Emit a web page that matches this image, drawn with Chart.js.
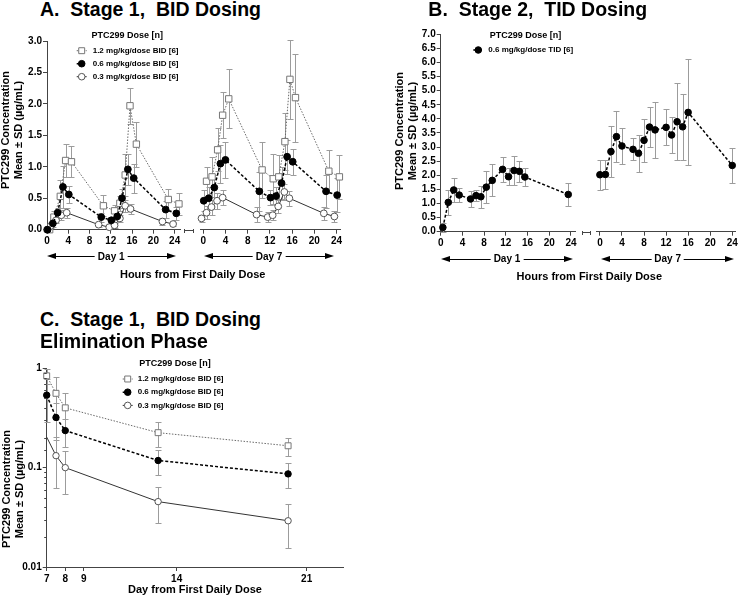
<!DOCTYPE html>
<html><head><meta charset="utf-8">
<script src="https://cdn.jsdelivr.net/npm/chart.js@4.4.1/dist/chart.umd.min.js"></script>
<style>
html,body{margin:0;padding:0;background:#fff;}
body{width:740px;height:595px;position:relative;overflow:hidden;font-family:"Liberation Sans",Arial,sans-serif;}
canvas{position:absolute;}
.t{position:absolute;font-weight:bold;color:#000;white-space:pre;line-height:1;}
.yt{position:absolute;font-weight:bold;color:#000;white-space:nowrap;font-size:11px;line-height:13px;text-align:center;transform:translate(-50%,-50%) rotate(-90deg);}
.arrow{position:absolute;height:10px;}
.arrow .shaft{position:absolute;left:5px;right:5px;top:4.25px;height:1.5px;background:#000;}
.arrow .hl{position:absolute;left:0;top:1.5px;width:0;height:0;border-right:9px solid #000;border-top:3.5px solid transparent;border-bottom:3.5px solid transparent;}
.arrow .hr{position:absolute;right:0;top:1.5px;width:0;height:0;border-left:9px solid #000;border-top:3.5px solid transparent;border-bottom:3.5px solid transparent;}
.arrow span{position:absolute;left:50%;top:50%;transform:translate(-50%,-50%);background:#fff;padding:0 3px;font-size:10px;font-weight:bold;line-height:1;white-space:nowrap;}
.brk{position:absolute;height:4px;border-left:1px solid #444;border-right:1px solid #444;}
.brk::after{content:'';position:absolute;left:0;right:0;top:1px;height:1px;background:#444;}
</style>
</head><body>
<script>
// ---------------- DATA ----------------
const seriesLabels = ['1.2 mg/kg/dose BID [6]', '0.6 mg/kg/dose BID [6]', '0.3 mg/kg/dose BID [6]'];
const tidLabel = '0.6 mg/kg/dose TID [6]';
const legendTitle = 'PTC299 Dose [n]';

// Panel A, Day 1 (hours)
const a1_hi_t  = [0.5, 1.3, 2.5, 3.5, 4.6, 10.6, 12.7, 13.7, 14.7, 15.6, 16.8, 22.8, 24.8];
const a1_hi_v  = [0.0, 0.20, 0.53, 1.10, 1.08, 0.38, 0.30, 0.42, 0.87, 1.97, 1.36, 0.48, 0.41];
const a1_hi_sd = [0, 0.10, 0.26, 0.27, 0.25, 0.17, 0.10, 0.12, 0.34, 0.29, 0.36, 0.17, 0.17];
const a1_md_t  = [0.1, 1.1, 2.0, 3.0, 4.1, 10.2, 12.1, 13.2, 14.1, 15.2, 16.3, 22.3, 24.3];
const a1_md_v  = [0.0, 0.10, 0.27, 0.68, 0.56, 0.20, 0.15, 0.21, 0.50, 0.96, 0.82, 0.32, 0.26];
const a1_md_sd = [0, 0.05, 0.08, 0.33, 0.14, 0.07, 0.05, 0.06, 0.15, 0.25, 0.23, 0.14, 0.10];
const a1_lo_t  = [0.0, 0.7, 1.7, 2.7, 3.7, 9.7, 11.7, 12.7, 13.7, 14.7, 15.7, 21.7, 23.7];
const a1_lo_v  = [0.0, 0.06, 0.15, 0.23, 0.27, 0.08, 0.04, 0.07, 0.18, 0.38, 0.33, 0.13, 0.09];
const a1_lo_sd = [0, 0.03, 0.05, 0.08, 0.08, 0.04, 0.03, 0.04, 0.06, 0.10, 0.08, 0.05, 0.03];

// Panel A, Day 7 (hours)
const a7_hi_t  = [0.6, 1.6, 2.6, 3.5, 4.6, 10.6, 12.6, 13.6, 14.7, 15.6, 16.6, 22.6, 24.5];
const a7_hi_v  = [0.77, 0.84, 1.27, 1.82, 2.08, 0.95, 0.81, 0.84, 1.40, 2.39, 2.10, 0.93, 0.84];
const a7_hi_sd = [0.23, 0.32, 0.34, 0.37, 0.47, 0.45, 0.40, 0.35, 0.45, 0.63, 0.70, 0.34, 0.35];
const a7_md_t  = [0.1, 1.0, 2.0, 3.1, 4.0, 10.1, 12.1, 13.1, 14.1, 15.1, 16.1, 22.1, 24.1];
const a7_md_v  = [0.46, 0.50, 0.67, 1.05, 1.11, 0.61, 0.51, 0.535, 0.74, 1.16, 1.08, 0.61, 0.55];
const a7_md_sd = [0.17, 0.18, 0.20, 0.30, 0.29, 0.31, 0.12, 0.15, 0.25, 0.27, 0.21, 0.26, 0.27];
const a7_lo_t  = [-0.3, 0.6, 1.5, 2.5, 3.5, 9.6, 11.6, 12.5, 13.5, 14.6, 15.5, 21.7, 23.6];
const a7_lo_v  = [0.18, 0.27, 0.36, 0.46, 0.51, 0.24, 0.20, 0.23, 0.37, 0.60, 0.50, 0.26, 0.21];
const a7_lo_sd = [0.05, 0.10, 0.12, 0.13, 0.12, 0.12, 0.08, 0.08, 0.10, 0.13, 0.12, 0.10, 0.08];

// Panel B, TID (hours)
const b1_t  = [0.4, 1.4, 2.4, 3.4, 5.5, 6.5, 7.4, 8.4, 9.5, 11.4, 12.5, 13.5, 14.5, 15.5, 23.5];
const b1_v  = [0.15, 1.04, 1.48, 1.30, 1.16, 1.28, 1.24, 1.58, 1.82, 2.21, 1.95, 2.17, 2.14, 1.94, 1.32];
const b1_sd = [0.15, 0.44, 0.43, 0.26, 0.29, 0.20, 0.39, 0.57, 0.57, 0.45, 0.30, 0.53, 0.36, 0.33, 0.41];
const b7_t  = [0, 1, 2, 3, 4, 6, 7, 8, 9, 10, 12, 13, 14, 15, 16, 24];
const b7_v  = [2.02, 2.03, 2.84, 3.37, 3.04, 2.92, 2.78, 3.24, 3.71, 3.61, 3.70, 3.43, 3.90, 3.72, 4.23, 2.35];
const b7_sd = [0.54, 0.53, 0.91, 0.91, 0.65, 0.39, 0.65, 0.76, 0.70, 1.00, 0.64, 0.65, 1.36, 1.18, 1.88, 0.63];

// Panel C, elimination (days)
const c_days  = [7, 7.5, 8, 13, 20];
const c_hi_v  = [0.84, 0.56, 0.40, 0.225, 0.166];
const c_hi_sd = [0.15, 0.25, 0.16, 0.065, 0.035];
const c_md_v  = [0.537, 0.32, 0.236, 0.118, 0.0865];
const c_md_sd = [0.25, 0.13, 0.075, 0.033, 0.024];
const c_lo_v  = [0.203, 0.132, 0.10, 0.0455, 0.0292];
const c_lo_sd = [0, 0.07, 0.046, 0.018, 0.0135];

// tick values
const hourTicks = [0, 4, 8, 12, 16, 20, 24];
const aYTicks = [0, 0.5, 1, 1.5, 2, 2.5, 3];
const bYTicks = [0, 0.5, 1, 1.5, 2, 2.5, 3, 3.5, 4, 4.5, 5, 5.5, 6, 6.5, 7];
const cXTicks = [7, 8, 9, 14, 21];

// ---------------- STYLE / HELPERS ----------------
const FONT = '"Liberation Sans", Arial, sans-serif';
const AX = '#444';
const EB = '#9c9c9c';

const S_HI = {pointStyle:'rect', pointRadius:4.5, pointBackgroundColor:'#fff', pointBorderColor:'#777', pointBorderWidth:1,
  borderColor:'#6a6a6a', borderWidth:1, borderDash:[1.5,1.5], order:2};
const S_MD = {pointStyle:'circle', pointRadius:3.4, pointBackgroundColor:'#000', pointBorderColor:'#000', pointBorderWidth:1,
  borderColor:'#000', borderWidth:1.5, borderDash:[3,2], order:0};
const S_LO = {pointStyle:'circle', pointRadius:3.4, pointBackgroundColor:'#fff', pointBorderColor:'#555', pointBorderWidth:1,
  borderColor:'#333', borderWidth:1, borderDash:[], order:1};

function xy(t, v){ return t.map((x, i) => ({x: x, y: v[i]})); }
function ds(label, t, v, sd, style, extra){
  return Object.assign({label: label, data: xy(t, v), sd: sd, showLine: true, fill: false, clip: false, tension: 0}, style, extra || {});
}
function isPow10(v){ const l = Math.log10(v); return Math.abs(l - Math.round(l)) < 1e-6; }

function drawMarker(ctx, style, x, y, r, fill, stroke){
  ctx.save(); ctx.fillStyle = fill; ctx.strokeStyle = stroke; ctx.lineWidth = 1; ctx.setLineDash([]);
  ctx.beginPath();
  if (style === 'rect') { const s = r * Math.SQRT1_2; ctx.rect(x - s, y - s, 2 * s, 2 * s); }
  else ctx.arc(x, y, r, 0, Math.PI * 2);
  ctx.fill(); ctx.stroke(); ctx.restore();
}

const errorBarPlugin = {
  id: 'errorBars',
  beforeDatasetsDraw(chart){
    const ctx = chart.ctx, xs = chart.scales.x, ys = chart.scales.y;
    ctx.save(); ctx.strokeStyle = EB; ctx.lineWidth = 1; ctx.setLineDash([]);
    chart.data.datasets.forEach(d => {
      if (!d.sd) return;
      d.data.forEach((p, i) => {
        const sd = d.sd[i]; if (!sd) return;
        const x = Math.round(xs.getPixelForValue(p.x)) + 0.5;
        const yt = Math.round(ys.getPixelForValue(p.y + sd)) + 0.5;
        let lo = p.y - sd; if (lo < ys.min) lo = ys.min;
        const yb = Math.round(ys.getPixelForValue(lo)) + 0.5;
        ctx.beginPath();
        ctx.moveTo(x, yt); ctx.lineTo(x, yb);
        ctx.moveTo(x - 3, yt); ctx.lineTo(x + 3, yt);
        ctx.moveTo(x - 3, yb); ctx.lineTo(x + 3, yb);
        ctx.stroke();
      });
    });
    ctx.restore();
  }
};

function legendPlugin(id, L){
  return { id: id, afterDraw(chart){
    const ctx = chart.ctx;
    ctx.save();
    ctx.fillStyle = '#000'; ctx.textBaseline = 'middle';
    ctx.font = 'bold 9px ' + FONT; ctx.textAlign = 'center';
    ctx.fillText(L.title, L.titleX - L.ox, L.titleY - L.oy);
    ctx.font = 'bold 8px ' + FONT; ctx.textAlign = 'left';
    chart.data.datasets.forEach((d, k) => {
      const y = L.y0 + k * L.dy - L.oy, mx = L.mx - L.ox;
      ctx.save(); ctx.strokeStyle = d.borderColor; ctx.lineWidth = d.borderWidth; ctx.setLineDash(d.borderDash || []);
      ctx.beginPath(); ctx.moveTo(mx - 5, y); ctx.lineTo(mx + 5, y); ctx.stroke(); ctx.restore();
      drawMarker(ctx, d.pointStyle, mx, y, d.pointStyle === 'rect' ? 4.2 : 3.3, d.pointBackgroundColor, d.pointBorderColor);
      ctx.fillStyle = '#000';
      ctx.fillText(d.label, L.tx - L.ox, y);
    });
    ctx.restore();
  }};
}

const minorTickPlugin = {
  id: 'minorTicks',
  afterDraw(chart){
    const ys = chart.scales.y, ctx = chart.ctx;
    ctx.save(); ctx.strokeStyle = AX; ctx.lineWidth = 1;
    ys.ticks.forEach(t => {
      if (!isPow10(t.value)) {
        const y = Math.round(ys.getPixelForValue(t.value)) + 0.5;
        ctx.beginPath(); ctx.moveTo(ys.right - 2.5, y); ctx.lineTo(ys.right, y); ctx.stroke();
      }
    });
    ctx.restore();
  }
};

function makeChart(cfg){
  const cv = document.createElement('canvas');
  cv.width = cfg.w; cv.height = cfg.h;
  cv.style.left = cfg.left + 'px'; cv.style.top = cfg.top + 'px';
  cv.style.width = cfg.w + 'px'; cv.style.height = cfg.h + 'px';
  document.body.appendChild(cv);
  const HX = 22;
  const wy = cfg.showY ? cfg.area.l - cfg.left : 0;
  const pad = {
    left: cfg.showY ? 0 : cfg.area.l - cfg.left,
    top: cfg.area.t - cfg.top,
    right: cfg.left + cfg.w - cfg.area.r,
    bottom: cfg.top + cfg.h - cfg.area.b - HX
  };
  const tickFont = {family: FONT, size: 10, weight: 'bold'};
  const yOpts = {
    type: cfg.yType || 'linear', position: 'left', min: cfg.yMin, max: cfg.yMax, display: cfg.showY,
    border: {display: true, color: AX, width: 1},
    grid: {drawOnChartArea: false, drawTicks: true, tickLength: 4, tickColor: cfg.yTickColor || AX},
    ticks: {font: tickFont, color: '#000', padding: 1, autoSkip: false, callback: cfg.yFmt},
    afterFit: s => { if (cfg.showY) s.width = wy; s.paddingTop = 0; s.paddingBottom = 0; }
  };
  if (cfg.yTicks) yOpts.afterBuildTicks = s => { s.ticks = cfg.yTicks.map(v => ({value: v})); };
  return new Chart(cv, {
    type: 'scatter',
    data: {datasets: cfg.datasets},
    options: {
      responsive: false, animation: false, devicePixelRatio: 1, events: [],
      layout: {padding: pad},
      plugins: {legend: {display: false}, tooltip: {enabled: false}},
      scales: {
        x: {
          type: 'linear', position: 'bottom', min: cfg.xMin, max: cfg.xMax,
          border: {display: true, color: AX, width: 1},
          grid: {drawOnChartArea: false, drawTicks: true, tickLength: 4, tickColor: AX},
          ticks: {font: tickFont, color: '#000', padding: 2, maxRotation: 0, autoSkip: false, callback: v => String(v)},
          afterBuildTicks: s => { s.ticks = cfg.xTicks.map(v => ({value: v})); },
          afterFit: s => { s.height = HX; s.paddingLeft = 0; s.paddingRight = 0; }
        },
        y: yOpts
      }
    },
    plugins: [errorBarPlugin].concat(cfg.plugins || [])
  });
}

function addText(str, x, baseline, size, center){
  const d = document.createElement('div');
  d.className = 't'; d.textContent = str;
  d.style.fontSize = size + 'px';
  d.style.top = (baseline - 0.8465 * size) + 'px';
  d.style.left = x + 'px';
  if (center) d.style.transform = 'translateX(-50%)';
  document.body.appendChild(d);
}
function addYTitle(lines, cx, cy){
  const d = document.createElement('div');
  d.className = 'yt';
  d.innerHTML = lines.join('<br>');
  d.style.left = cx + 'px'; d.style.top = cy + 'px';
  document.body.appendChild(d);
}
function addArrow(x1, x2, y, label){
  const d = document.createElement('div');
  d.className = 'arrow';
  d.style.left = x1 + 'px'; d.style.top = (y - 5) + 'px'; d.style.width = (x2 - x1) + 'px';
  d.innerHTML = '<div class="shaft"></div><div class="hl"></div><div class="hr"></div>';
  const s = document.createElement('span'); s.textContent = label; d.appendChild(s);
  document.body.appendChild(d);
}
function addBreak(x, y, w){
  const d = document.createElement('div');
  d.className = 'brk';
  d.style.left = x + 'px'; d.style.top = y + 'px'; d.style.width = w + 'px';
  document.body.appendChild(d);
}

const fmt1 = v => Number(v).toFixed(1);

// ---------------- PANEL A ----------------
makeChart({
  left: 0, top: 20, w: 190, h: 240, showY: true,
  area: {l: 47, t: 41, r: 180, b: 229.7},
  xMin: 0, xMax: 25, xTicks: hourTicks,
  yMin: 0, yMax: 3, yTicks: aYTicks, yFmt: fmt1,
  datasets: [
    ds(seriesLabels[0], a1_hi_t, a1_hi_v, a1_hi_sd, S_HI),
    ds(seriesLabels[1], a1_md_t, a1_md_v, a1_md_sd, S_MD),
    ds(seriesLabels[2], a1_lo_t, a1_lo_v, a1_lo_sd, S_LO)
  ],
  plugins: [legendPlugin('legendA', {ox: 0, oy: 20, title: legendTitle, titleX: 127.3, titleY: 35.7, mx: 81.7, tx: 92.7, y0: 50.7, dy: 13})]
});
makeChart({
  left: 185, top: 20, w: 165, h: 240, showY: false,
  area: {l: 200.4, t: 41, r: 340.5, b: 229.7},
  xMin: -0.5, xMax: 24.7, xTicks: hourTicks,
  yMin: 0, yMax: 3, yTicks: aYTicks, yFmt: fmt1,
  datasets: [
    ds(seriesLabels[0], a7_hi_t, a7_hi_v, a7_hi_sd, S_HI),
    ds(seriesLabels[1], a7_md_t, a7_md_v, a7_md_sd, S_MD),
    ds(seriesLabels[2], a7_lo_t, a7_lo_v, a7_lo_sd, S_LO)
  ]
});

// ---------------- PANEL B ----------------
const S_B = Object.assign({}, S_MD, {pointRadius: 3.3});
makeChart({
  left: 400, top: 14, w: 185, h: 250, showY: true,
  area: {l: 440.7, t: 34.3, r: 575.3, b: 231.7},
  xMin: 0, xMax: 24.8, xTicks: hourTicks,
  yMin: 0, yMax: 7, yTicks: bYTicks, yFmt: fmt1,
  datasets: [ ds(tidLabel, b1_t, b1_v, b1_sd, S_B) ],
  plugins: [legendPlugin('legendB', {ox: 400, oy: 14, title: legendTitle, titleX: 525.5, titleY: 36, mx: 478.3, tx: 488.3, y0: 50, dy: 13})]
});
makeChart({
  left: 585, top: 14, w: 155, h: 250, showY: false,
  area: {l: 596.6, t: 34.3, r: 737.8, b: 231.7},
  xMin: -0.6, xMax: 24.5, xTicks: hourTicks,
  yMin: 0, yMax: 7, yTicks: bYTicks, yFmt: fmt1,
  datasets: [ ds(tidLabel, b7_t, b7_v, b7_sd, S_B) ]
});

// ---------------- PANEL C ----------------
const S_HIc = Object.assign({}, S_HI, {pointRadius: 4.2});
const S_MDc = Object.assign({}, S_MD, {pointRadius: 3.2});
const S_LOc = Object.assign({}, S_LO, {pointRadius: [0, 3.2, 3.2, 3.2, 3.2]});
makeChart({
  left: 0, top: 340, w: 350, h: 250, showY: true,
  area: {l: 46.7, t: 368.3, r: 343.8, b: 567},
  xMin: 7, xMax: 23, xTicks: cXTicks,
  yType: 'logarithmic', yMin: 0.01, yMax: 1,
  yFmt: v => isPow10(v) ? String(Number(Number(v).toPrecision(1))) : '',
  yTickColor: c => (c.tick && isPow10(c.tick.value)) ? AX : 'rgba(0,0,0,0)',
  datasets: [
    ds(seriesLabels[0], c_days, c_hi_v, c_hi_sd, S_HIc),
    ds(seriesLabels[1], c_days, c_md_v, c_md_sd, S_MDc),
    ds(seriesLabels[2], c_days, c_lo_v, c_lo_sd, S_LOc)
  ],
  plugins: [minorTickPlugin, legendPlugin('legendC', {ox: 0, oy: 340, title: legendTitle, titleX: 175, titleY: 363.3, mx: 127.7, tx: 137.7, y0: 379, dy: 13.2})]
});

// ---------------- TEXT & DECORATIONS ----------------
addText('A.  Stage 1,  BID Dosing', 40, 16.7, 19.5, false);
addText('B.  Stage 2,  TID Dosing', 428.3, 16.7, 19.5, false);
addText('C.  Stage 1,  BID Dosing', 40, 327, 19.5, false);
addText('Elimination Phase', 40, 349, 19.5, false);

const yTitleLines = ['PTC299 Concentration', 'Mean \u00b1 SD (\u00b5g/mL)'];
addYTitle(yTitleLines, 11.5, 129.5);
addYTitle(yTitleLines, 405.7, 130.5);
addYTitle(yTitleLines, 12.5, 489);

addArrow(46.7, 175.7, 256.5, 'Day 1');
addArrow(204, 334, 256.5, 'Day 7');
addArrow(440.7, 573.3, 259.3, 'Day 1');
addArrow(601, 734.3, 259.3, 'Day 7');

addText('Hours from First Daily Dose', 192.7, 278.3, 11, true);
addText('Hours from First Daily Dose', 589.3, 280.5, 11, true);
addText('Day from First Daily Dose', 195, 593, 11, true);

addBreak(184, 229, 8);
addBreak(582, 231, 7);
</script>
</body></html>
